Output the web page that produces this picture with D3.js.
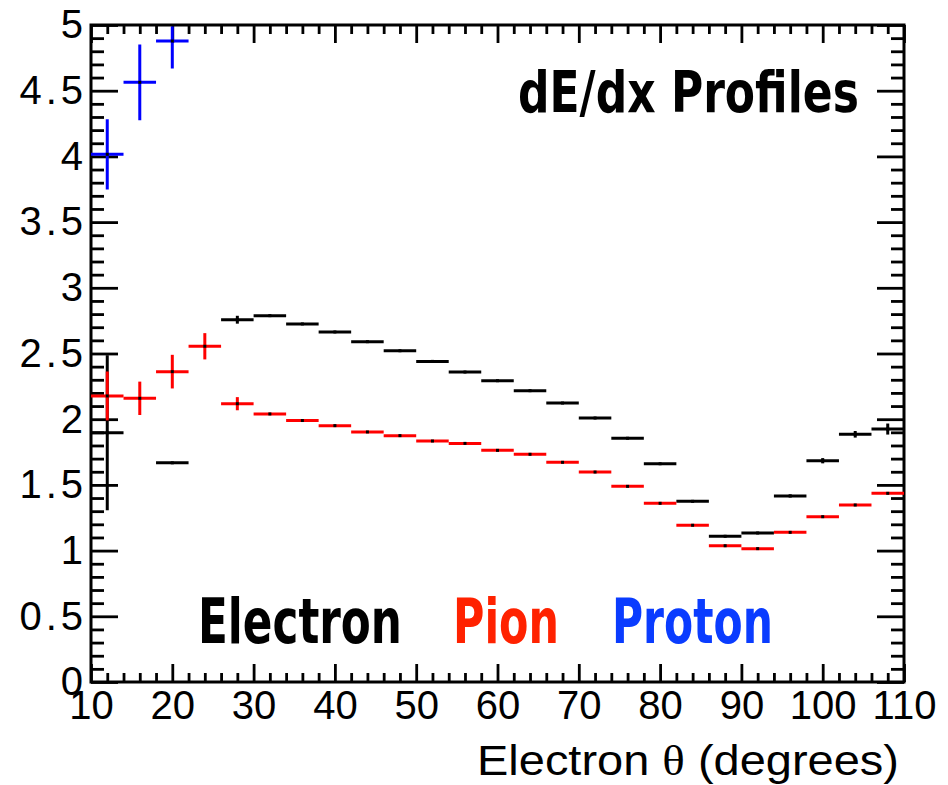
<!DOCTYPE html>
<html>
<head>
<meta charset="utf-8">
<script src="https://cdn.jsdelivr.net/npm/d3@7/dist/d3.min.js"></script>
<style>
  html, body { margin: 0; padding: 0; background: #ffffff; }
  svg { display: block; }
</style>
</head>
<body>
<script>
// Profile bins: 4-degree wide bins from 10 to 110 degrees
const binCenters = [12, 16, 20, 24, 28, 32, 36, 40, 44, 48, 52, 56, 60, 64, 68, 72, 76, 80, 84, 88, 92, 96, 100, 104, 108];
const binHalfWidth = 2;

// Mean dE/dx per bin (null = empty bin)
const electronValues = [1.897, null, 1.668, null, 2.757, 2.788, 2.725, 2.664, 2.590, 2.521, 2.440, 2.359, 2.293, 2.217, 2.123, 2.009, 1.855, 1.661, 1.375, 1.109, 1.134, 1.416, 1.684, 1.885, 1.925];
const electronErrors = [0.59, null, 0.006, null, 0.03, 0.006, 0.006, 0.006, 0.006, 0.006, 0.006, 0.006, 0.006, 0.006, 0.006, 0.006, 0.006, 0.006, 0.006, 0.006, 0.006, 0.01, 0.02, 0.025, 0.042];

const pionValues = [2.177, 2.159, 2.362, 2.555, 2.118, 2.040, 1.990, 1.951, 1.903, 1.875, 1.834, 1.816, 1.763, 1.733, 1.672, 1.598, 1.489, 1.360, 1.193, 1.037, 1.015, 1.139, 1.258, 1.347, 1.436];
const pionErrors = [0.186, 0.127, 0.128, 0.10, 0.05, 0.008, 0.006, 0.006, 0.006, 0.006, 0.006, 0.006, 0.006, 0.006, 0.006, 0.006, 0.006, 0.006, 0.006, 0.006, 0.006, 0.006, 0.006, 0.006, 0.006];

const protonValues = [4.016, 4.564, 4.878];
const protonErrors = [0.267, 0.288, 0.21];

const xMajorTicks = [10, 20, 30, 40, 50, 60, 70, 80, 90, 100, 110];
const yMajorTicks = [0, 0.5, 1, 1.5, 2, 2.5, 3, 3.5, 4, 4.5, 5];

const legendLabels = ["Electron", "Pion", "Proton"];
const titleText = "dE/dx Profiles";

const W = 948, H = 785;
const frame = { left: 91, right: 904, top: 25, bottom: 682 };

const svg = d3.select("body").append("svg")
  .attr("width", W).attr("height", H)
  .style("background", "#ffffff");

const x = d3.scaleLinear().domain([10, 110]).range([frame.left, frame.right]);
const y = d3.scaleLinear().domain([0, 5]).range([frame.bottom, frame.top]);

const xMinor = d3.range(10, 110.01, 2).filter(v => v % 10 !== 0);
const yMinor = d3.range(0, 50.01, 1).map(v => v / 10).filter(v => Math.round(v * 10) % 5 !== 0);
const fmtY = d3.format("~g");

const axisFont = "'Liberation Sans', Arial, Helvetica, sans-serif";

function styleAxis(g) {
  g.select(".domain").remove();
  g.selectAll(".tick line").attr("stroke", "#000").attr("stroke-width", 2.8);
  g.selectAll(".tick text").attr("fill", "#000")
    .style("font-family", axisFont).style("font-size", "40px");
}

// Bottom axis (ticks pointing inward)
svg.append("g").attr("transform", `translate(0,${frame.bottom})`)
  .call(d3.axisBottom(x).tickValues(xMajorTicks).tickSize(-18).tickPadding(9).tickFormat(d3.format("d")))
  .call(styleAxis);
svg.append("g").attr("transform", `translate(0,${frame.bottom})`)
  .call(d3.axisBottom(x).tickValues(xMinor).tickSize(-9).tickFormat(""))
  .call(styleAxis);
// Top mirror ticks
svg.append("g").attr("transform", `translate(0,${frame.top})`)
  .call(d3.axisTop(x).tickValues(xMajorTicks).tickSize(-18).tickFormat(""))
  .call(styleAxis);
svg.append("g").attr("transform", `translate(0,${frame.top})`)
  .call(d3.axisTop(x).tickValues(xMinor).tickSize(-9).tickFormat(""))
  .call(styleAxis);
// Left axis
svg.append("g").attr("transform", `translate(${frame.left},0)`)
  .call(d3.axisLeft(y).tickValues(yMajorTicks).tickSize(-27).tickPadding(4).tickFormat(fmtY))
  .call(styleAxis)
  .call(g => g.selectAll(".tick text").style("letter-spacing", "4px"));
svg.append("g").attr("transform", `translate(${frame.left},0)`)
  .call(d3.axisLeft(y).tickValues(yMinor).tickSize(-13).tickFormat(""))
  .call(styleAxis);
// Right mirror ticks
svg.append("g").attr("transform", `translate(${frame.right},0)`)
  .call(d3.axisRight(y).tickValues(yMajorTicks).tickSize(-27).tickFormat(""))
  .call(styleAxis);
svg.append("g").attr("transform", `translate(${frame.right},0)`)
  .call(d3.axisRight(y).tickValues(yMinor).tickSize(-13).tickFormat(""))
  .call(styleAxis);

// Frame
svg.append("rect")
  .attr("x", frame.left).attr("y", frame.top)
  .attr("width", frame.right - frame.left).attr("height", frame.bottom - frame.top)
  .attr("fill", "none").attr("stroke", "#000").attr("stroke-width", 3);

// Clip for data marks
svg.append("clipPath").attr("id", "plotClip")
  .append("rect")
  .attr("x", frame.left).attr("y", frame.top + 1.5)
  .attr("width", frame.right - frame.left).attr("height", frame.bottom - frame.top - 1.5);

const plot = svg.append("g").attr("clip-path", "url(#plotClip)");

function drawProfile(values, errors, color) {
  const pts = values.map((v, i) => ({ c: binCenters[i], v, e: errors[i] }))
    .filter(d => d.v !== null);
  const g = plot.append("g");
  g.selectAll("line.h").data(pts).join("line").attr("class", "h")
    .attr("x1", d => x(d.c - binHalfWidth)).attr("x2", d => x(d.c + binHalfWidth))
    .attr("y1", d => y(d.v)).attr("y2", d => y(d.v))
    .attr("stroke", color).attr("stroke-width", 3);
  g.selectAll("line.v").data(pts).join("line").attr("class", "v")
    .attr("x1", d => x(d.c)).attr("x2", d => x(d.c))
    .attr("y1", d => y(d.v - d.e)).attr("y2", d => y(d.v + d.e))
    .attr("stroke", color).attr("stroke-width", 3);
  g.selectAll("rect.m").data(pts).join("rect").attr("class", "m")
    .attr("x", d => x(d.c) - 1.5).attr("y", d => y(d.v) - 1.5)
    .attr("width", 3).attr("height", 3).attr("fill", "#000");
}

drawProfile(electronValues, electronErrors, "#000000");
drawProfile(pionValues, pionErrors, "#ff0000");
drawProfile(protonValues, protonErrors, "#0000ff");

// Text stretched horizontally to span a given width from its left edge
function fitWidth(t, left, baseline, width) {
  const bb = t.node().getBBox();
  const s = width / bb.width;
  t.attr("transform", `translate(${left - bb.x * s},${baseline}) scale(${s},1)`);
  return t;
}

// Condensed bold labels
const condFont = "'Liberation Sans Narrow', 'DejaVu Sans Condensed', 'Liberation Sans', sans-serif";
function boldLabel(str, size, color) {
  return svg.append("text")
    .attr("x", 0).attr("y", 0)
    .style("font-family", condFont).style("font-weight", "bold")
    .style("font-size", size + "px")
    .attr("fill", color)
    .text(str);
}

fitWidth(boldLabel(titleText, 57, "#000000"), 518, 112, 341);

const legendColors = ["#000000", "#ff2200", "#0a3cff"];
const legendLeft = [198, 453, 612];
const legendWidth = [204, 106, 161];
legendLabels.forEach((lab, i) => {
  fitWidth(boldLabel(lab, 63, legendColors[i]), legendLeft[i], 643, legendWidth[i]);
});

// X-axis title
const xt = svg.append("text")
  .attr("x", 0).attr("y", 0)
  .style("font-family", axisFont).style("font-size", "42px")
  .attr("fill", "#000");
xt.append("tspan").text("Electron ");
xt.append("tspan").style("font-family", "'Liberation Serif', 'Times New Roman', serif").text("θ");
xt.append("tspan").text(" (degrees)");
fitWidth(xt, 477, 775, 422);
</script>
</body>
</html>
